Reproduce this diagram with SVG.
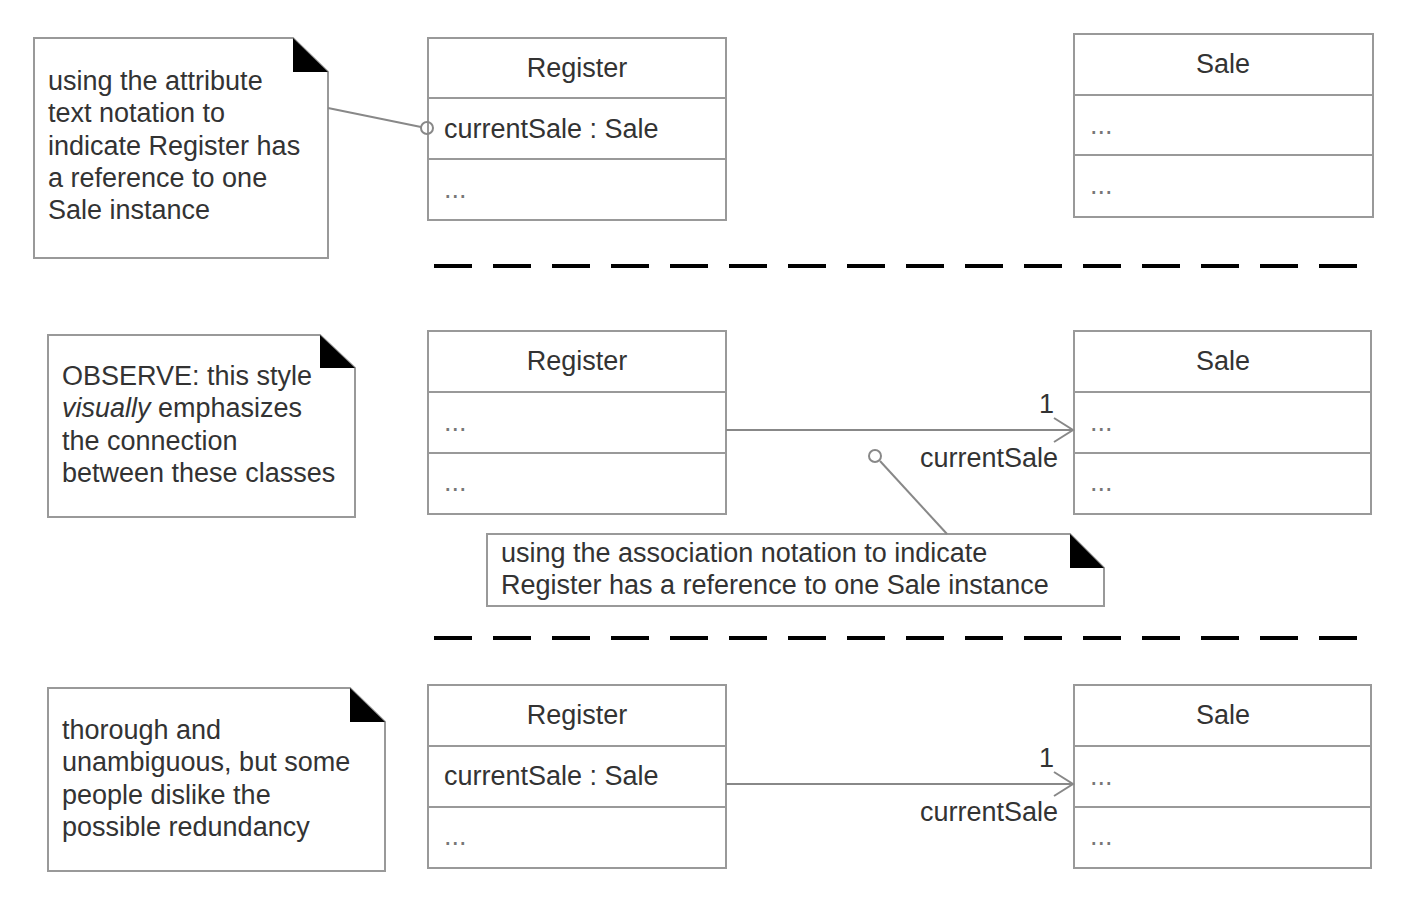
<svg xmlns="http://www.w3.org/2000/svg" width="1412" height="900" viewBox="0 0 1412 900">
<style>
text{font-family:"Liberation Sans",Arial,sans-serif;font-size:27px;fill:#333}
.dots{fill:#777}
.box{fill:#fff;stroke:#999;stroke-width:2}
.div{stroke:#999;stroke-width:2}
.note{fill:#fff;stroke:#999;stroke-width:2}
.fold{fill:#000}
.conn{fill:none;stroke:#888;stroke-width:2}
.dash{stroke:#000;stroke-width:4;stroke-dasharray:38 21}
.c{text-anchor:middle}
.r{text-anchor:end}
</style>
<rect width="1412" height="900" fill="#fff"/>

<g id="note-attribute">
<path class="note" d="M34,38 H293 L328,72 V258 H34 Z"/>
<path class="fold" d="M293,38 V72 H328 Z"/>
<text x="48" y="90">using the attribute</text>
<text x="48" y="122">text notation to</text>
<text x="48" y="155">indicate Register has</text>
<text x="48" y="187">a reference to one</text>
<text x="48" y="219">Sale instance</text>
</g>

<g id="register-top">
<rect class="box" x="428" y="38" width="298" height="182"/>
<line class="div" x1="428" y1="98" x2="726" y2="98"/>
<line class="div" x1="428" y1="159" x2="726" y2="159"/>
<text class="c" x="577" y="77">Register</text>
<text x="444" y="138">currentSale : Sale</text>
<text class="dots" x="444" y="198">...</text>
</g>

<g id="sale-top">
<rect class="box" x="1074" y="34" width="299" height="183"/>
<line class="div" x1="1074" y1="95" x2="1373" y2="95"/>
<line class="div" x1="1074" y1="155" x2="1373" y2="155"/>
<text class="c" x="1223" y="73">Sale</text>
<text class="dots" x="1090" y="134">...</text>
<text class="dots" x="1090" y="194">...</text>
</g>

<g id="note-observe">
<path class="note" d="M48,335 H320 L355,368 V517 H48 Z"/>
<path class="fold" d="M320,335 V368 H355 Z"/>
<text x="62" y="385">OBSERVE: this style</text>
<text x="62" y="417"><tspan font-style="italic">visually</tspan> emphasizes</text>
<text x="62" y="450">the connection</text>
<text x="62" y="482">between these classes</text>
</g>

<g id="register-mid">
<rect class="box" x="428" y="331" width="298" height="183"/>
<line class="div" x1="428" y1="392" x2="726" y2="392"/>
<line class="div" x1="428" y1="453" x2="726" y2="453"/>
<text class="c" x="577" y="370">Register</text>
<text class="dots" x="444" y="431">...</text>
<text class="dots" x="444" y="491">...</text>
</g>

<g id="sale-mid">
<rect class="box" x="1074" y="331" width="297" height="183"/>
<line class="div" x1="1074" y1="392" x2="1371" y2="392"/>
<line class="div" x1="1074" y1="453" x2="1371" y2="453"/>
<text class="c" x="1223" y="370">Sale</text>
<text class="dots" x="1090" y="431">...</text>
<text class="dots" x="1090" y="491">...</text>
</g>

<g id="note-association">
<path class="note" d="M487,534 H1070 L1104,568 V606 H487 Z"/>
<path class="fold" d="M1070,534 V568 H1104 Z"/>
<text x="501" y="562">using the association notation to indicate</text>
<text x="501" y="594">Register has a reference to one Sale instance</text>
</g>

<g id="note-thorough">
<path class="note" d="M48,688 H350 L385,722 V871 H48 Z"/>
<path class="fold" d="M350,688 V722 H385 Z"/>
<text x="62" y="739">thorough and</text>
<text x="62" y="771">unambiguous, but some</text>
<text x="62" y="804">people dislike the</text>
<text x="62" y="836">possible redundancy</text>
</g>

<g id="register-bottom">
<rect class="box" x="428" y="685" width="298" height="183"/>
<line class="div" x1="428" y1="746" x2="726" y2="746"/>
<line class="div" x1="428" y1="807" x2="726" y2="807"/>
<text class="c" x="577" y="724">Register</text>
<text x="444" y="785">currentSale : Sale</text>
<text class="dots" x="444" y="845">...</text>
</g>

<g id="sale-bottom">
<rect class="box" x="1074" y="685" width="297" height="183"/>
<line class="div" x1="1074" y1="746" x2="1371" y2="746"/>
<line class="div" x1="1074" y1="807" x2="1371" y2="807"/>
<text class="c" x="1223" y="724">Sale</text>
<text class="dots" x="1090" y="785">...</text>
<text class="dots" x="1090" y="845">...</text>
</g>

<g id="connectors">
<line class="conn" x1="328" y1="108" x2="421" y2="127"/>
<circle class="conn" cx="427" cy="128" r="6"/>
<line class="conn" x1="726" y1="430" x2="1073" y2="430"/>
<polyline class="conn" points="1054,418 1073,430 1054,442"/>
<circle class="conn" cx="875" cy="456" r="6"/>
<line class="conn" x1="880" y1="461" x2="947" y2="534"/>
<line class="conn" x1="726" y1="784" x2="1073" y2="784"/>
<polyline class="conn" points="1054,772 1073,784 1054,796"/>
<text class="r" x="1054" y="413">1</text>
<text class="r" x="1058" y="467">currentSale</text>
<text class="r" x="1054" y="767">1</text>
<text class="r" x="1058" y="821">currentSale</text>
</g>

<g id="separators">
<line class="dash" x1="434" y1="266" x2="1357" y2="266"/>
<line class="dash" x1="434" y1="638" x2="1357" y2="638"/>
</g>
</svg>
